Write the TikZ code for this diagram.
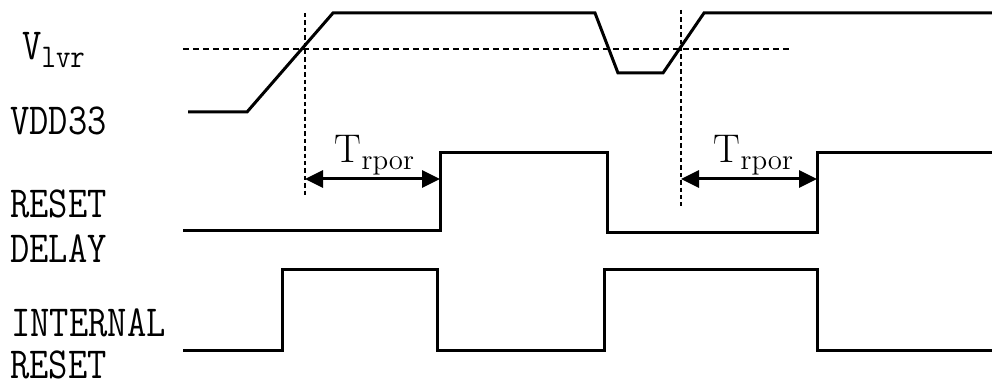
\documentclass[tikz,border=0pt]{standalone}
\usepackage{tikz}
\usetikzlibrary{positioning, arrows.meta, calc}

\newcommand{\tallfont}[1]{\scalebox{0.97}[1.15]{#1}}

\tikzset{
  wave/.style={line width=1.5pt, line join=miter},
  level/.style={line width=1.3pt, dash pattern=on 3pt off 2pt},
  marker/.style={line width=1.3pt, dash pattern=on 2.2pt off 1.5pt},
  span/.style={line width=1.5pt, {Triangle[length=9pt,width=8.5pt]}-{Triangle[length=9pt,width=8.5pt]}},
  sig/.style={font=\fontsize{19.3}{21}\selectfont\ttfamily, anchor=west, inner sep=0pt},
  tlabel/.style={font=\fontsize{20}{24}\selectfont, inner sep=0pt, anchor=base},
}

\begin{document}
\begin{tikzpicture}[x=0.5pt, y=-0.5pt]
    \useasboundingbox (0,0) rectangle (992,385);
    % signal names
    \node[sig] (vlvr) at (22,50) {\tallfont{V$_{\mathtt{lvr}}$}};
    \node[sig] (vdd) at (10,121) {\tallfont{VDD33}};
    \node[sig] (rst) at (10,204) {\tallfont{RESET}};
    \node[sig] (dly) at (10,249) {\tallfont{DELAY}};
    \node[sig] (int) at (11,323) {\tallfont{INTERNAL}};
    \node[sig] (irst) at (10,365) {\tallfont{RESET}};

    % VDD33 and threshold
    \draw[wave] (188,112) -- (247,112) -- (333,13) -- (595,13) -- (618,73) -- (663,73) -- (704,13) -- (992,13);
    \draw[level] (183,49) -- (791,49);

    % markers where VDD33 crosses V_lvr
    \coordinate (m1top) at (305,13);
    \coordinate (m1) at (305,179);
    \coordinate (m1bot) at (305,197);
    \coordinate (m2top) at (681,10);
    \coordinate (m2) at (681,179);
    \coordinate (m2bot) at (681,206);
    \draw[marker] (m1top) -- (m1bot);
    \draw[marker] (m2top) -- (m2bot);

    % RESET DELAY
    \draw[wave] (183,231) -- (440,231) -- (440,153) -- (607,153) -- (607,233) -- (817,233) -- (817,153) -- (992,153);
    \coordinate (r1) at (440,179);
    \coordinate (r2) at (817,179);

    % INTERNAL RESET
    \draw[wave] (183,350) -- (282,350) -- (282,270) -- (437,270) -- (437,350) -- (604,350) -- (604,270) -- (817,270) -- (817,350) -- (992,350);

    % T_rpor spans
    \draw[span] (m1) -- (r1);
    \draw[span] (m2) -- (r2);
    \node[tlabel] (t1) at (375,163) {T$_{\mathrm{rpor}}$};
    \node[tlabel] (t2) at (754,163) {T$_{\mathrm{rpor}}$};
\end{tikzpicture}
\end{document}
